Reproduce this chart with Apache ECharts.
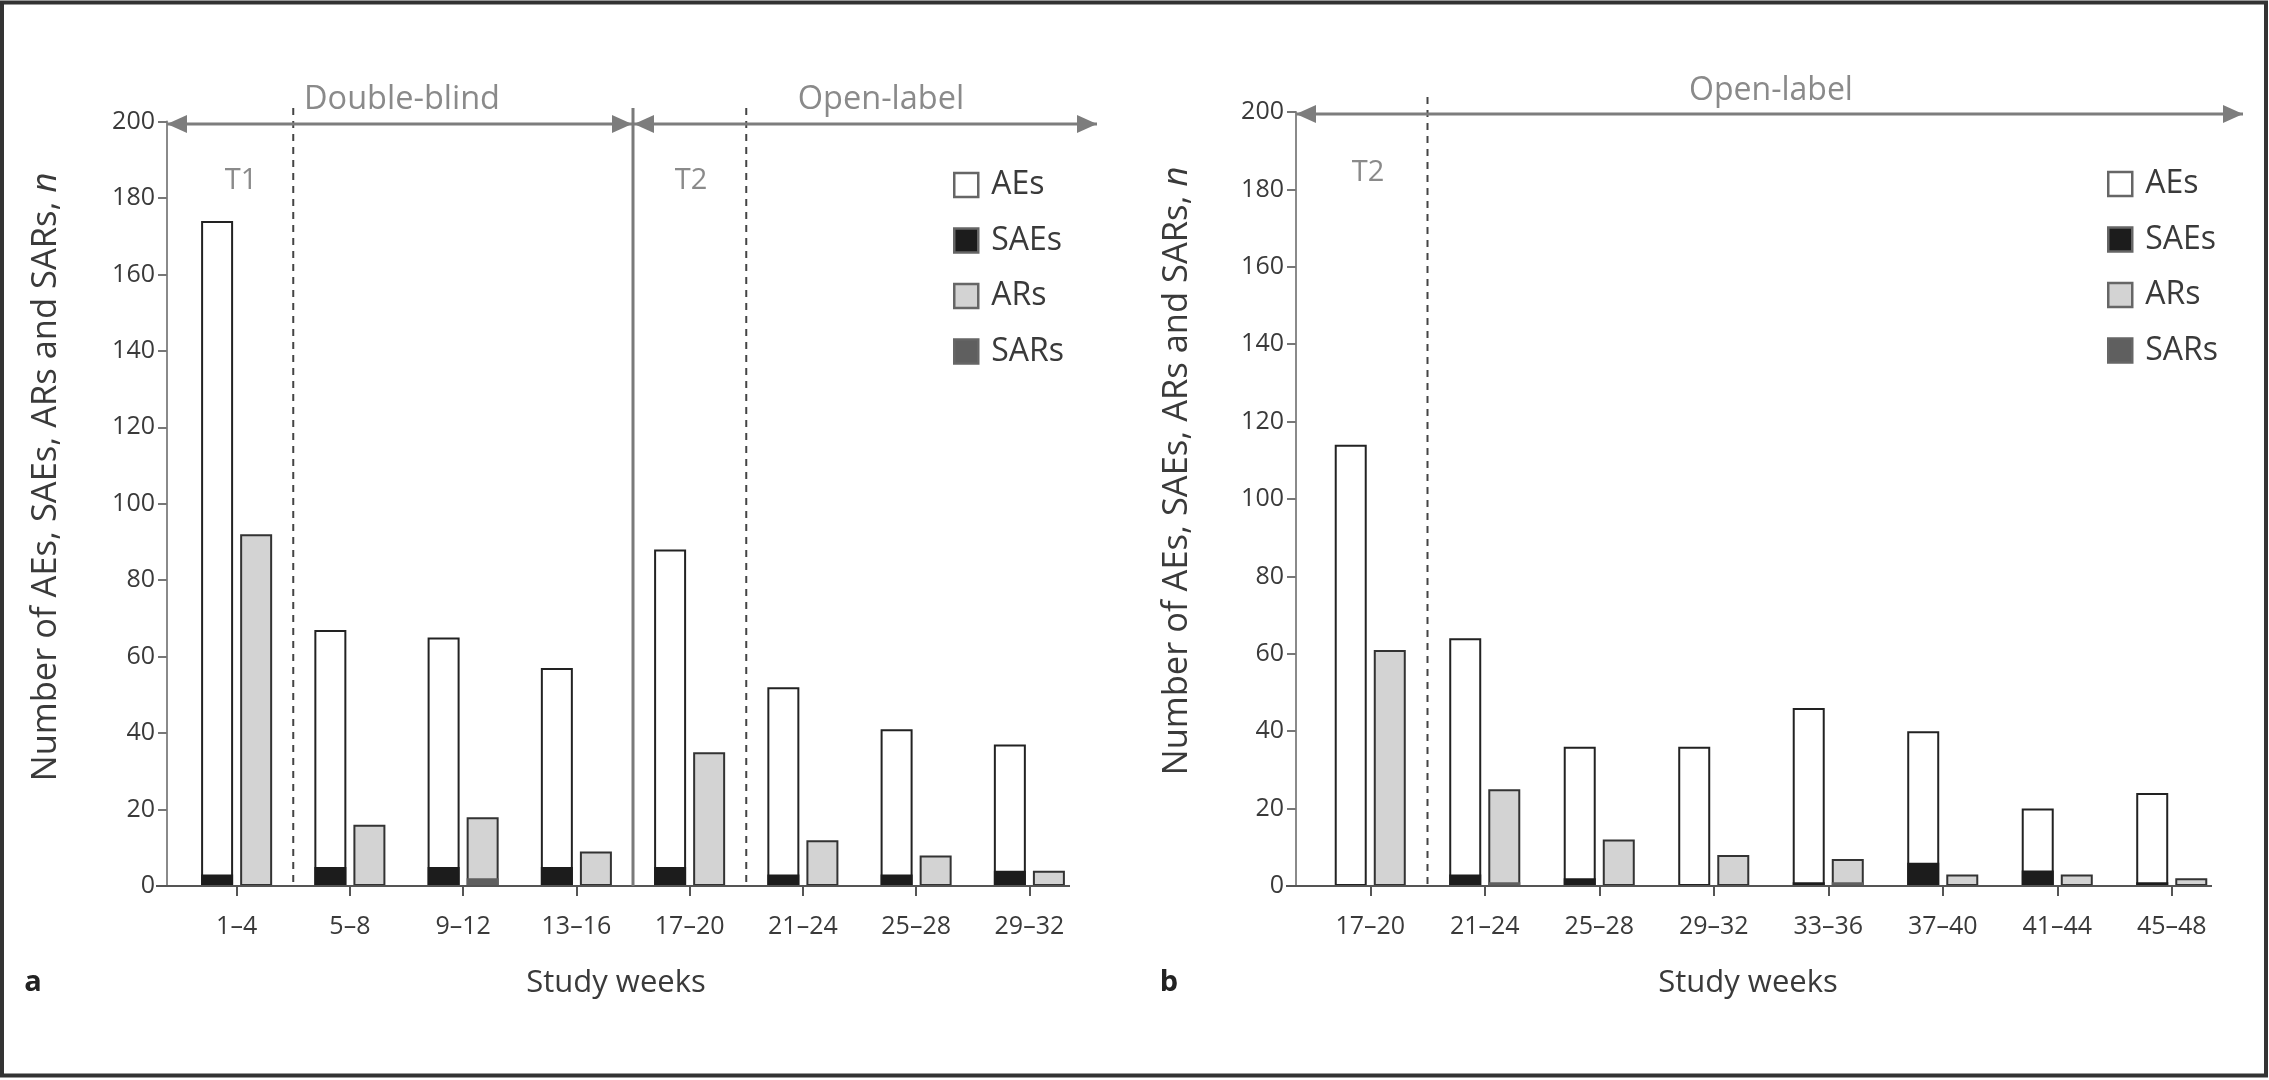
<!DOCTYPE html>
<html><head><meta charset="utf-8">
<script src="https://cdn.jsdelivr.net/npm/echarts@6/dist/echarts.min.js"></script>
<style>html,body{margin:0;padding:0;background:#fff}#c{width:2269px;height:1080px}</style>
</head><body><div id="c"></div>
<script>
// ---- data ----
const catsA = ['1–4','5–8','9–12','13–16','17–20','21–24','25–28','29–32'];
const aesA  = [174, 67, 65, 57, 88, 52, 41, 37];
const saesA = [3, 5, 5, 5, 5, 3, 3, 4];
const arsA  = [92, 16, 18, 9, 35, 12, 8, 4];
const sarsA = [0, 0, 2, 0, 0, 0, 0, 0];

const catsB = ['17–20','21–24','25–28','29–32','33–36','37–40','41–44','45–48'];
const aesB  = [114, 64, 36, 36, 46, 40, 20, 24];
const saesB = [0, 3, 2, 0, 1, 6, 4, 1];
const arsB  = [61, 25, 12, 8, 7, 3, 3, 2];
const sarsB = [0, 1, 0, 0, 1, 0, 0, 0];

const legendNames = ['AEs','SAEs','ARs','SARs'];
const yMin = 0, yMax = 200, yStep = 20;
const yTitle = 'Number of AEs, SAEs, ARs and SARs, {i|n}';
const xTitle = 'Study weeks';

// ---- styles ----
const FONT = '"Open Sans", "Noto Sans", sans-serif';
const TXT = '#3a3a3a';
const GREY = '#8a8a8a';
const styles = {
  AEs:  {color:'#ffffff', borderColor:'#222', borderWidth:2},
  SAEs: {color:'#1c1c1c', borderWidth:0},
  ARs:  {color:'#d3d3d3', borderColor:'#333', borderWidth:2},
  SARs: {color:'#5f5f5f', borderWidth:0}
};
const BW = 32, GAP = '22%';

function xAxes(cats, grid, show) {
  return {
    type:'category', gridIndex:grid, data:cats, show:show,
    axisLine:{show:false},
    axisTick:{show:show, alignWithLabel:true, length:10, lineStyle:{color:'#555', width:2}},
    axisLabel:{show:show, fontFamily:FONT, fontSize:25, color:TXT, margin:28}
  };
}
function yAxis(grid, offset) {
  return {
    type:'value', gridIndex:grid, min:yMin, max:yMax, interval:yStep, offset:offset,
    axisLine:{show:true, lineStyle:{color:'#8a8a8a', width:2}},
    axisTick:{show:true, length:9, lineStyle:{color:'#777', width:2}},
    axisLabel:{fontFamily:FONT, fontSize:25, color:TXT, margin:12},
    splitLine:{show:false}
  };
}
function bar(name, data, xi, yi, z) {
  return {name:name, type:'bar', data:data, xAxisIndex:xi, yAxisIndex:yi,
    barWidth:BW, barGap:GAP, itemStyle:styles[name], z:z, silent:true};
}
function legend(left, top) {
  return {
    orient:'vertical', left:left, top:top, padding:0, itemWidth:24, itemHeight:24, itemGap:23.5,
    data:legendNames, selectedMode:false, icon:'rect',
    itemStyle:{borderColor:'#666', borderWidth:2.5},
    textStyle:{fontFamily:FONT, fontSize:32, color:TXT, padding:[0,0,0,8]}
  };
}

const chart = echarts.init(document.getElementById('c'), null, {renderer:'canvas'});
chart.setOption({
  animation:false,
  backgroundColor:'#fff',
  grid:[
    {left:180, top:121.5, width:906, height:764.5, outerBoundsMode:'none', containLabel:false},
    {left:1313, top:112, width:916, height:774, outerBoundsMode:'none', containLabel:false}
  ],
  xAxis:[xAxes(catsA,0,true), xAxes(catsA,0,false), xAxes(catsB,1,true), xAxes(catsB,1,false)],
  yAxis:[yAxis(0,13), yAxis(1,17)],
  legend:[legend(953,169), legend(2107,168)],
  series:[
    bar('AEs', aesA, 0, 0, 2), bar('ARs', arsA, 0, 0, 2),
    bar('SAEs', saesA, 1, 0, 3), bar('SARs', sarsA, 1, 0, 3),
    bar('AEs', aesB, 2, 1, 2), bar('ARs', arsB, 2, 1, 2),
    bar('SAEs', saesB, 3, 1, 3), bar('SARs', sarsB, 3, 1, 3)
  ]
});

// ---- annotations (positions derived from the axes) ----
function px(axis, cat) { return chart.convertToPixel({xAxisIndex:axis}, cat); }
function boundary(axis, cats, i) { return (px(axis, cats[i]) + px(axis, cats[i+1])) / 2; }
function yPx(yi, v) { return chart.convertToPixel({yAxisIndex:yi}, v); }

const g = [];
const ARROW = '#7d7d7d';
function arrow(x1, x2, y) {
  g.push({type:'line', shape:{x1:x1, y1:y, x2:x2, y2:y}, style:{stroke:ARROW, lineWidth:3}, z:10});
  g.push({type:'polygon', shape:{points:[[x1,y],[x1+20,y-9],[x1+20,y+9]]}, style:{fill:ARROW}, z:10});
  g.push({type:'polygon', shape:{points:[[x2,y],[x2-20,y-9],[x2-20,y+9]]}, style:{fill:ARROW}, z:10});
}
function vline(x, y1, y2, dashed, color, w) {
  g.push({type:'line', shape:{x1:x, y1:y1, x2:x, y2:y2},
    style:{stroke:color, lineWidth:w, lineDash: dashed ? [7,6] : null}, z:9});
}
function text(t, x, y, size, color, weight, rot) {
  g.push({type:'text', x:x, y:y, rotation:rot||0, style:{text:t, fontFamily:FONT, fontSize:size, fill:color,
    fontWeight:weight||'normal', align:'center', verticalAlign:'middle',
    rich:{i:{fontStyle:'italic', fontFamily:FONT, fontSize:size, fill:color}}}, z:11});
}

const base0 = yPx(0, 0), base1 = yPx(1, 0);
const axA = 167, axB = 1296;
// baselines
g.push({type:'line', shape:{x1:156, y1:base0, x2:1070, y2:base0}, style:{stroke:'#555', lineWidth:2}, z:8});
g.push({type:'line', shape:{x1:1286, y1:base1, x2:2212, y2:base1}, style:{stroke:'#555', lineWidth:2}, z:8});

// panel a
const bA1 = boundary(0, catsA, 0), bA4 = boundary(0, catsA, 3), bA5 = boundary(0, catsA, 4);
const arrowYA = yPx(0, 200) + 2.5;
vline(bA1, 108, base0, true, '#444', 2);
vline(bA4, 108, base0, false, '#7a7a7a', 3);
vline(bA5, 108, base0, true, '#444', 2);
arrow(axA, bA4 - 1, arrowYA);
arrow(bA4 + 1, 1097, arrowYA);
text('Double-blind', 402, 100, 32.5, GREY);
text('Open-label', 881, 100, 32.5, GREY);
text('T1', 241, 181, 29, GREY);
text('T2', 691, 181, 29, GREY);

// panel b
const bB1 = boundary(2, catsB, 0);
const arrowYB = yPx(1, 200) + 2;
vline(bB1, 97, base1, true, '#444', 2);
arrow(axB, 2243, arrowYB);
text('Open-label', 1771, 91, 32, GREY);
text('T2', 1368, 173, 29, GREY);

// axis titles and panel letters
text(yTitle, 46, 477, 34.5, TXT, 'normal', Math.PI/2);
text(yTitle, 1177, 471, 34.5, TXT, 'normal', Math.PI/2);
text(xTitle, 616, 983, 31, TXT);
text(xTitle, 1748, 983, 31, TXT);
text('a', 33, 983, 29, '#222', 'bold');
text('b', 1169, 983, 29, '#222', 'bold');

// frame
g.push({type:'rect', shape:{x:2, y:2.5, width:2264, height:1073}, style:{fill:'none', stroke:'#333', lineWidth:4}, z:20});

chart.setOption({graphic: g});
</script>
</body></html>
